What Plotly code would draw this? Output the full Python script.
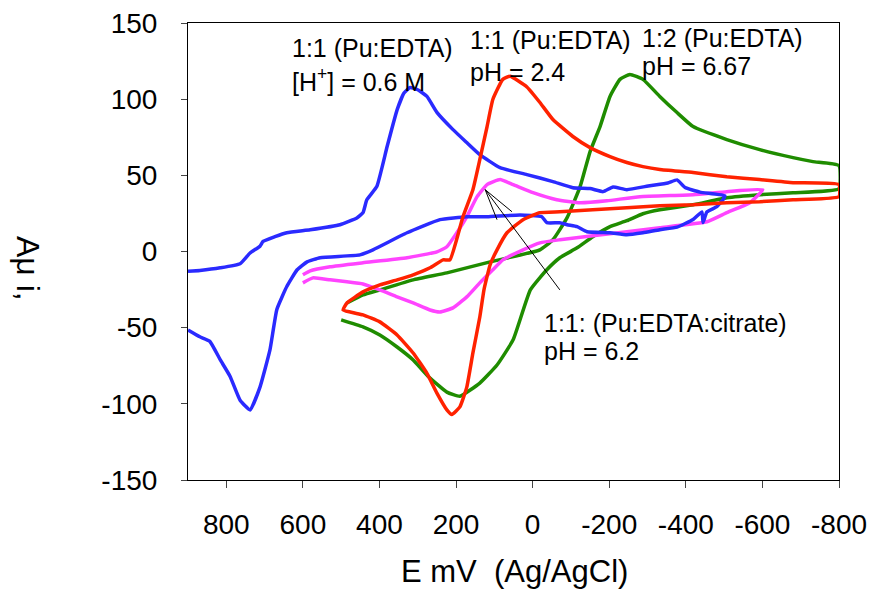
import plotly.graph_objects as go

# ---- data (E in mV vs Ag/AgCl, i in uA) ----
blue_E = [900, 869, 816, 764, 738, 712, 704, 673, 642, 581, 503, 459, 443, 433, 407, 380, 354, 336, 320, 299, 276, 250, 208, 172, 138, 85, 15, -53, -105, -150, -184, -210, -246, -306, -353, -377, -398, -437, -502,
          -497, -481, -455, -445, -442, -419, -377, -332, -288, -246, -202, -142, -116, -90, -71, -37, -24, 33, 119, 172, 242, 328, 417, 451, 555, 589, 615, 642, 668, 686, 712, 738, 764, 790, 816, 843, 869, 900]
blue_I = [-13, -12.4, -10.7, -8, -1, 3.5, 6.6, 9.7, 12.3, 14.3, 17.6, 22, 25.5, 34, 42.6, 68.9, 93, 104, 107.7, 106, 101.8, 91.3, 80, 71.5, 63.6, 55, 50.5, 45.9, 41.9, 41.3, 39.3, 42.4, 40.6, 43.2, 45, 47, 42, 39, 36.6,
          34, 29.4, 26, 19, 26, 21, 16, 14.3, 12.3, 11, 12.3, 13, 16.3, 17.6, 18.9, 18.9, 22.8, 24, 22.8, 22.8, 20.9, 12.3, 1.1, -2.2, -4.1, -6.8, -12, -23, -38, -64.6, -89, -104, -97.6, -82, -71, -59, -56, -51.5]

red_E = [495, 485, 443, 399, 354, 312, 268, 234, 216, 182, 156, 138, 119, 104, 78, 59, 15, -19, -53, -105, -150, -202, -246, -288, -332, -419, -507, -593, -680, -800,
         -800, -680, -593, -507, -419, -332, -246, -157, -71, -19, 25, 67, 93, 111, 127, 138, 156, 172, 190, 211, 224, 250, 276, 312, 354, 399, 443, 495]
red_I = [-38.4, -33.8, -26.5, -21.9, -18.6, -15.3, -10.7, -5.5, -5.5, 22.8, 40.6, 60.3, 82, 99.8, 113, 115, 108, 97.8, 86.6, 75.5, 68.2, 62.3, 58.4, 55.7, 53.8, 51.8, 49.1, 47.2, 45.2, 43.9,
         36, 34, 32.7, 32, 30.7, 30, 28.8, 27.4, 26.1, 25.5, 20.9, 12.3, 1.1, -8.7, -25, -43, -66.6, -89, -102, -107, -104, -93, -80, -66.6, -54.8, -46.2, -41.6, -38.4]

green_E = [500, 443, 399, 354, 312, 271, 224, 190, 138, 93, 51, 6, -37, -71, -116, -157, -202, -246, -288, -332, -419, -507, -593, -680, -800,
           -800, -732, -680, -593, -507, -419, -377, -332, -288, -254, -228, -202, -176, -150, -124, -90, -53, -19, 41, 111, 224, 312, 399, 443, 485]
green_I = [-44.9, -49.5, -54.8, -62.7, -71.2, -82.4, -92.3, -95, -86.4, -74.5, -58, -25.2, -12, -4.1, 2.4, 9.7, 16.3, 20.2, 24.8, 27.4, 30.7, 35.3, 37.3, 38.6, 41.2,
           56.4, 59, 61.6, 66.9, 73.5, 82, 91.2, 101.8, 113, 116.2, 113, 101.8, 82, 65.6, 42.6, 22.2, 7.7, 1.1, -2.8, -6.8, -14, -18.6, -25.2, -28.5, -33.8]

mag_E = [600, 581, 529, 443, 328, 250, 224, 198, 172, 145, 119, 85, 51, -1, -63, -124, -194, -280, -419, -507, -601,
         -567, -507, -455, -332, -246, -157, -71, -19, 25, 78, 104, 138, 172, 208, 242, 268, 312, 354, 399, 443, 485, 529, 574, 600]
mag_I = [-15.3, -12.7, -10, -7.4, -4.1, -0.2, 3.1, 12.3, 22.8, 36, 43.9, 47.2, 43.9, 38.6, 34, 32, 33.3, 36, 37.3, 39.3, 40.6,
         32, 25.5, 19.5, 15.6, 13, 10.3, 7.7, 5.7, 1.1, -5.5, -12, -20.6, -29.8, -37, -39.7, -38.4, -33.8, -29.8, -25.2, -21.3, -19.9, -18.6, -17.3, -20.6]

x_ticks = [800, 600, 400, 200, 0, -200, -400, -600, -800]
x_tick_text = ["800", "600", "400", "200", "0", "-200", "-400", "-600", "-800"]
y_ticks = [-150, -100, -50, 0, 50, 100, 150]
y_tick_text = ["-150", "-100", "-50", "0", "50", "100", "150"]

# arrow from label to the magenta peak
arrow_tip = (124, 40.6)
arrow_tail = (-71, -25.2)
arrow_arms = [(54, 26.1), (93, 20.9)]

FONT = "Arial, Liberation Sans, sans-serif"

fig = go.Figure()
for E, I, col in [(green_E, green_I, "#1f8c00"), (mag_E, mag_I, "#ff44ff"),
                  (blue_E, blue_I, "#2a2aff"), (red_E, red_I, "#ff2200")]:
    fig.add_trace(go.Scatter(x=E, y=I, mode="lines",
                             line=dict(color=col, width=3.5, shape="spline", smoothing=0.4),
                             showlegend=False, hoverinfo="skip"))

shapes = [dict(type="line", xref="x", yref="y", x0=arrow_tip[0], y0=arrow_tip[1],
               x1=arrow_tail[0], y1=arrow_tail[1], line=dict(color="black", width=1))]
for ax_, ay_ in arrow_arms:
    shapes.append(dict(type="line", xref="x", yref="y", x0=arrow_tip[0], y0=arrow_tip[1],
                       x1=ax_, y1=ay_, line=dict(color="black", width=1)))

def px_x(p):
    return (p - 188) / 651.0

def px_y(p):
    return (480 - p) / 457.0

ann_font = dict(family=FONT, size=25, color="black")
labels = [
    ("1:1 (Pu:EDTA)", 290, 48),
    ("[H<sup>+</sup>] = 0.6 M", 290, 80),
    ("1:1 (Pu:EDTA)", 468, 40),
    ("pH = 2.4", 468, 72),
    ("1:2 (Pu:EDTA)", 640, 38),
    ("pH = 6.67", 640, 66),
    ("1:1: (Pu:EDTA:citrate)", 542, 323),
    ("pH = 6.2", 542, 351),
]
annotations = []
for txt, lx, ly in labels:
    annotations.append(dict(text=txt, x=px_x(lx), y=px_y(ly), xref="paper", yref="paper",
                            xanchor="left", yanchor="middle", showarrow=False, font=ann_font))
annotations.append(dict(text="Aμ i,", x=px_x(28), y=px_y(268), xref="paper", yref="paper",
                        xanchor="center", yanchor="middle", showarrow=False, textangle=90,
                        font=dict(family=FONT, size=32, color="black")))
annotations.append(dict(text="E mV&nbsp; (Ag/AgCl)", x=px_x(514), y=px_y(571), xref="paper", yref="paper",
                        xanchor="center", yanchor="middle", showarrow=False,
                        font=dict(family=FONT, size=31, color="black")))

fig.update_layout(
    width=875, height=590,
    margin=dict(l=188, r=36, t=23, b=110, autoexpand=False),
    plot_bgcolor="white", paper_bgcolor="white",
    shapes=shapes, annotations=annotations,
    font=dict(family=FONT, color="black"),
)
fig.update_xaxes(range=[900, -800], tickvals=x_ticks, ticktext=x_tick_text, ticks="outside", ticklen=7,
                 showline=True, linecolor="black", linewidth=1, mirror=True, automargin=False,
                 showgrid=False, zeroline=False, tickfont=dict(size=28, family=FONT),
                 ticklabelstandoff=12)
fig.update_yaxes(range=[-150, 150], tickvals=y_ticks, ticktext=y_tick_text, ticks="outside", ticklen=6,
                 showline=True, linecolor="black", linewidth=1, mirror=True, automargin=False,
                 showgrid=False, zeroline=False, tickfont=dict(size=28, family=FONT),
                 ticklabelstandoff=18)

fig.write_html("out.html", config={"displayModeBar": False},
               post_script="document.body.style.margin='0';document.body.style.overflow='hidden';")
